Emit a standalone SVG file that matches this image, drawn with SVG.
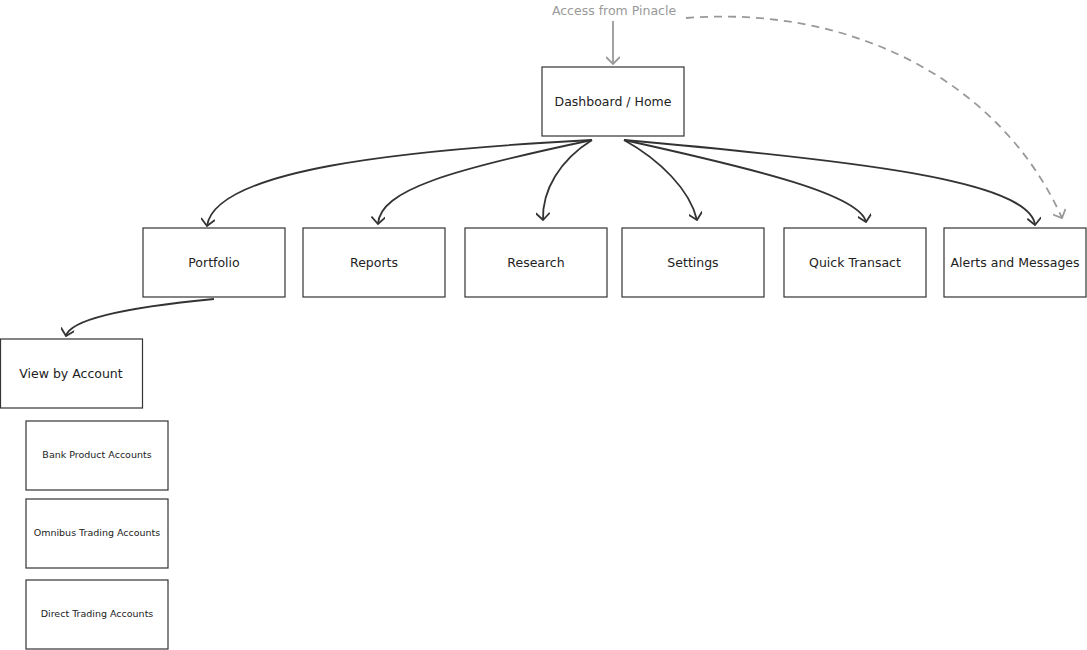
<svg xmlns="http://www.w3.org/2000/svg" width="1087" height="650" viewBox="0 0 1087 650">
<style>
.n rect{fill:#fff;stroke:#333;stroke-width:1.2}
.n text{font-family:"DejaVu Sans",sans-serif;font-size:12.5px;fill:#222;text-anchor:middle;dominant-baseline:middle}
.s text{font-size:9.5px}
.c path{fill:none;stroke:#333;stroke-width:1.8}
.c path.g{stroke:#999}
.c path.d{stroke:#999;stroke-dasharray:8 6}
</style>
<defs>
<marker id="a" viewBox="0 0 12 12" refX="6" refY="11" markerWidth="12" markerHeight="12" markerUnits="userSpaceOnUse" orient="auto-start-reverse"><polyline points="0,5 6,11 12,5" fill="none" stroke="#333" stroke-width="1.8" transform="rotate(-90 6 6)"/></marker>
<marker id="ag" viewBox="0 0 14 14" refX="13" refY="7" markerWidth="14" markerHeight="14" markerUnits="userSpaceOnUse" orient="auto"><polyline points="6,0 13,7 6,14" fill="none" stroke="#999" stroke-width="1.8"/></marker>
<marker id="ab" viewBox="0 0 14 14" refX="13" refY="7" markerWidth="14" markerHeight="14" markerUnits="userSpaceOnUse" orient="auto"><polyline points="6,0 13,7 6,14" fill="none" stroke="#333" stroke-width="1.8"/></marker>
</defs>
<text x="614" y="15" font-family="DejaVu Sans, sans-serif" font-size="12.5" fill="#999" text-anchor="middle">Access from Pinacle</text>
<g class="c">
<path class="g" d="M613,21 L613,64" marker-end="url(#ag)"/>
<path class="d" d="M686,18 C850,5 1000,80 1062,218" marker-end="url(#ag)"/>
<path d="M592,140 C400,150 215,170 207,226" marker-end="url(#ab)"/>
<path d="M592,140 C450,170 380,190 378,224" marker-end="url(#ab)"/>
<path d="M592,140 C560,160 542,190 543,220" marker-end="url(#ab)"/>
<path d="M624,140 C660,160 690,190 697,220" marker-end="url(#ab)"/>
<path d="M624,140 C760,170 860,195 866,222" marker-end="url(#ab)"/>
<path d="M624,140 C850,160 1030,180 1035,225" marker-end="url(#ab)"/>
<path d="M214,299 C120,308 70,320 66,336" marker-end="url(#ab)"/>
</g>
<g class="n" id="dashboard"><rect x="542" y="67" width="142" height="69"/><text x="613" y="102">Dashboard / Home</text></g>
<g class="n" id="portfolio"><rect x="143" y="228" width="142" height="69"/><text x="214" y="263">Portfolio</text></g>
<g class="n" id="reports"><rect x="303" y="228" width="142" height="69"/><text x="374" y="263">Reports</text></g>
<g class="n" id="research"><rect x="465" y="228" width="142" height="69"/><text x="536" y="263">Research</text></g>
<g class="n" id="settings"><rect x="622" y="228" width="142" height="69"/><text x="693" y="263">Settings</text></g>
<g class="n" id="quick"><rect x="784" y="228" width="142" height="69"/><text x="855" y="263">Quick Transact</text></g>
<g class="n" id="alerts"><rect x="944" y="228" width="142" height="69"/><text x="1015" y="263">Alerts and Messages</text></g>
<g class="n" id="viewacct"><rect x="0.5" y="339" width="142" height="69"/><text x="71" y="374">View by Account</text></g>
<g class="n s" id="bank"><rect x="26" y="421" width="142" height="69"/><text x="97" y="455">Bank Product Accounts</text></g>
<g class="n s" id="omnibus"><rect x="26" y="499" width="142" height="69"/><text x="97" y="533">Omnibus Trading Accounts</text></g>
<g class="n s" id="direct"><rect x="26" y="580" width="142" height="69"/><text x="97" y="614">Direct Trading Accounts</text></g>
</svg>
